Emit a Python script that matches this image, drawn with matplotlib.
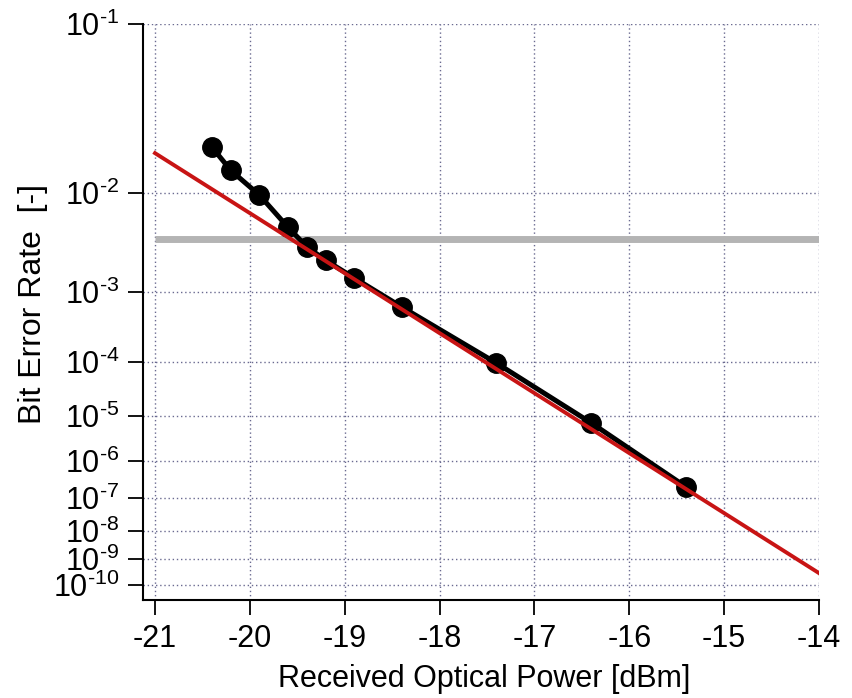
import numpy as np
import matplotlib
matplotlib.use("Agg")
import matplotlib.pyplot as plt

plt.rcParams["font.family"] = ["Liberation Sans", "DejaVu Sans"]
plt.rcParams["mathtext.fontset"] = "custom"
plt.rcParams["mathtext.rm"] = "Liberation Sans"
plt.rcParams["mathtext.it"] = "Liberation Sans:italic"
plt.rcParams["mathtext.bf"] = "Liberation Sans:bold"

# measured BER vs received optical power
power = [-20.4, -20.2, -19.9, -19.6, -19.4, -19.2, -18.9, -18.4, -17.4, -16.4, -15.4]
ber = [2.2e-2, 1.5e-2, 9.6e-3, 5.0e-3, 3.2e-3, 2.3e-3, 1.46e-3, 6.4e-4, 9.5e-5, 7.2e-6, 2.05e-7]

# linear fit (in the -log(-log) scale)
fit_power = [-21, -14]
fit_ber = [2.0e-2, 3.0e-10]

# FEC threshold
fec_power = [-21, -14]
fec_ber = [3.8e-3, 3.8e-3]

xticks = [-21, -20, -19, -18, -17, -16, -15, -14]
yexp = [1, 2, 3, 4, 5, 6, 7, 8, 9, 10]


def fwd(b):
    b = np.clip(np.asarray(b, dtype=float), 1e-300, 0.999999)
    return -np.log10(-np.log10(b))


def inv(t):
    t = np.asarray(t, dtype=float)
    return 10.0 ** (-(10.0 ** (-t)))


fig = plt.figure(figsize=(8.52, 6.98), dpi=100)
ax = fig.add_axes([143 / 852, 98 / 698, 676 / 852, 576 / 698])
ax.set_yscale("function", functions=(fwd, inv))

ax.plot(fec_power, fec_ber, color="#b4b4b4", lw=5, solid_capstyle="butt", zorder=2)
ax.plot(power, ber, color="black", lw=3.6, marker="o", ms=14, zorder=3)
ax.plot(fit_power, fit_ber, color="#c81414", lw=2.8, zorder=4)

ax.set_xlim(-21.1265, -14)
ax.set_ylim(10 ** (-(10 ** 1.0267)), 1e-1)

ax.set_xticks(xticks)
ax.set_xticklabels([str(v) for v in xticks])
ax.set_yticks([10.0 ** (-e) for e in yexp])
ax.set_yticklabels([r"$\mathregular{10^{\text{-}%d}}$" % e for e in yexp])
ax.minorticks_off()

ax.grid(True, ls=(0, (1, 2)), color="#6a6a90", lw=1.0)
ax.set_axisbelow(True)
for s in ["top", "right"]:
    ax.spines[s].set_visible(False)
for s in ["left", "bottom"]:
    ax.spines[s].set_linewidth(1.5)

ax.tick_params(direction="out", length=11, width=1.3, labelsize=22)
ax.tick_params(axis="x", pad=6)
ax.tick_params(axis="y", pad=6)

ax.set_xlabel("Received Optical Power [dBm]", fontsize=22)
ax.set_ylabel("Bit Error Rate  [-]", fontsize=23)
ax.xaxis.set_label_coords(0.504, -0.138)
ax.yaxis.set_label_coords(-0.163, 0.514)
ax.xaxis.label.set_va("center")
ax.yaxis.label.set_va("center")

fig.savefig("out.png", dpi=100)
